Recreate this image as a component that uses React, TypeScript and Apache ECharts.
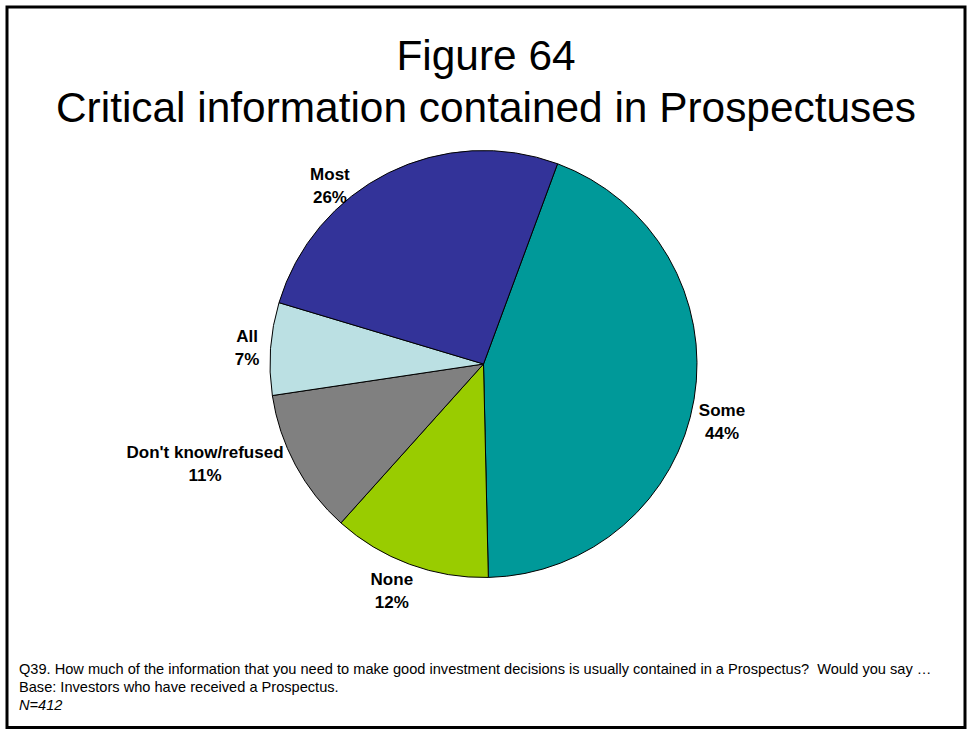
import React, { useEffect, useRef } from "react";
import * as echarts from "echarts";

// Share of respondents by answer, in the order the slices run clockwise
const categories = ["Some", "None", "Don't know/refused", "All", "Most"];
const shares = [44, 12, 11, 7, 26];
const sliceColors = ["#009999", "#99CC00", "#808080", "#BBE0E3", "#333399"];

const titleLines = ["Figure 64", "Critical information contained in Prospectuses"];
const footnoteLines = [
  "Q39. How much of the information that you need to make good investment decisions is usually contained in a Prospectus?  Would you say \u2026",
  "Base: Investors who have received a Prospectus.",
  "N=412",
];

// Pie geometry
const CX = 483.5;
const CY = 364;
const R = 213.5;
const START_ANGLE = 69.7; // degrees, ECharts convention (counter-clockwise from 3 o'clock)

// Label placement: angular nudge from the slice's mid-angle (deg) and distance from centre (px)
const labelAngleNudge = [4.2, 1.7, 8.5, -0.2, -14.3];
const labelDistance = [245.5, 244.7, 296, 237, 235];

export default function App() {
  const ref = useRef<HTMLDivElement>(null);

  useEffect(() => {
    if (!ref.current) return;
    const chart = echarts.init(ref.current, undefined, { renderer: "svg" });

    const total = shares.reduce((a, b) => a + b, 0);
    // clockwise angle from 12 o'clock where the first slice starts
    const start = 90 - START_ANGLE;
    let acc = 0;
    const labelPos = shares.map((v, i) => {
      const mid = start + ((acc + v / 2) / total) * 360;
      acc += v;
      const a = ((mid + labelAngleNudge[i]) * Math.PI) / 180;
      return {
        x: CX + labelDistance[i] * Math.sin(a),
        y: CY - labelDistance[i] * Math.cos(a),
      };
    });

    const font = "Arial, 'Liberation Sans', Helvetica, sans-serif";

    chart.setOption({
      animation: false,
      backgroundColor: "#ffffff",
      series: [
        {
          type: "pie",
          center: [CX, CY],
          radius: R,
          startAngle: START_ANGLE,
          clockwise: true,
          avoidLabelOverlap: false,
          silent: true,
          itemStyle: { borderColor: "#000000", borderWidth: 1 },
          label: {
            show: true,
            position: "outside",
            formatter: (p: any) => `${p.name}\n${p.value}%`,
            fontFamily: font,
            fontWeight: "bold",
            fontSize: 17,
            lineHeight: 23,
            color: "#000000",
            align: "center",
          },
          labelLine: { show: false },
          labelLayout: (params: any) => {
            const p = labelPos[params.dataIndex];
            return { x: p.x, y: p.y, align: "center", verticalAlign: "middle" };
          },
          data: categories.map((name, i) => ({
            name,
            value: shares[i],
            itemStyle: { color: sliceColors[i] },
          })),
        },
      ],
      graphic: [
        {
          type: "rect",
          shape: { x: 7, y: 7, width: 958, height: 720.5 },
          style: { fill: "none", stroke: "#000000", lineWidth: 3 },
          silent: true,
        },
        ...titleLines.map((t, i) => ({
          type: "text",
          x: 486,
          y: 55.5 + i * 51.7,
          style: {
            text: t,
            font: `42.4px ${font}`,
            fill: "#000000",
            align: "center",
            verticalAlign: "middle",
          },
          silent: true,
        })),
        ...footnoteLines.map((t, i) => ({
          type: "text",
          x: 19,
          y: 669 + i * 18,
          style: {
            text: t,
            font: `${i === 2 ? "italic " : ""}14.6px ${font}`,
            fill: "#000000",
            align: "left",
            verticalAlign: "middle",
          },
          silent: true,
        })),
      ],
    });

    return () => chart.dispose();
  }, []);

  return (
    <div
      ref={ref}
      style={{ position: "fixed", left: 0, top: 0, width: 969, height: 732, background: "#fff" }}
    />
  );
}
